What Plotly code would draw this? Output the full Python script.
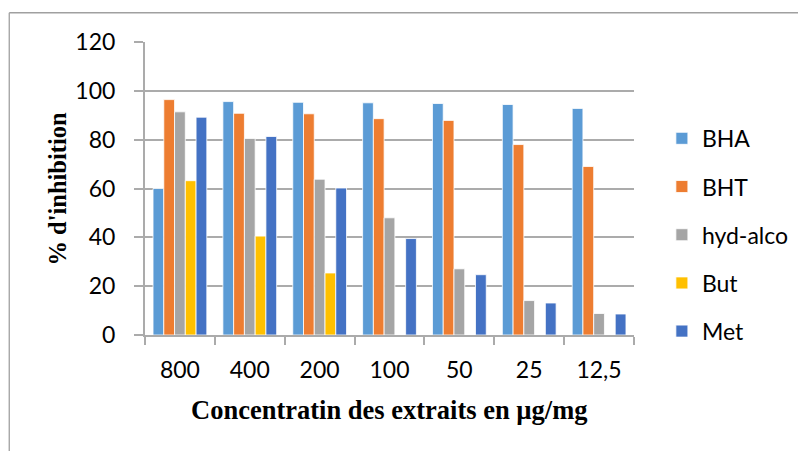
import plotly.graph_objects as go

categories = ["800", "400", "200", "100", "50", "25", "12,5"]
series_names = ["BHA", "BHT", "hyd-alco", "But", "Met"]
bha = [60, 95.6, 95.3, 95.1, 94.8, 94.4, 92.8]
bht = [96.4, 90.8, 90.6, 88.6, 87.9, 78.0, 69.0]
hyd_alco = [91.4, 80.5, 63.8, 48.0, 27.1, 14.1, 8.8]
but = [63.2, 40.5, 25.4, None, None, None, None]
met = [89.2, 81.3, 60.2, 39.5, 24.7, 13.1, 8.6]
colors = ["#5B9BD5", "#ED7D31", "#A5A5A5", "#FFC000", "#4472C4"]
y_ticks = [0, 20, 40, 60, 80, 100, 120]

# page has an 8px body margin; work in page coordinates and convert
OFF = 8
W, H = 806 - OFF, 451 - OFF
L, R, T, B = 145 - OFF, 636 - OFF, 42 - OFF, 335.5 - OFF
pw, ph = R - L, B - T

def px(x_page):
    return (x_page - OFF - L) / pw

def py(y_page):
    return (B - (y_page - OFF)) / ph

fig = go.Figure()
for name, vals, col in zip(series_names, [bha, bht, hyd_alco, but, met], colors):
    fig.add_trace(go.Bar(
        x=categories, y=vals, name=name, legendgroup=name,
        marker=dict(color=col, line=dict(color="white", width=0.8)),
    ))

tick_font = dict(family="Lato, Carlito, sans-serif", size=23, color="#000000")
xtitle_font = dict(family="Liberation Serif, Times New Roman, serif", size=26.5, color="#000000")
ytitle_font = dict(family="Liberation Serif, Times New Roman, serif", size=24.5, color="#000000")
gcol = "#ABABAB"

fig.update_layout(
    width=W, height=H,
    margin=dict(l=L, r=W - R, t=T, b=H - B, pad=0),
    paper_bgcolor="white", plot_bgcolor="white",
    barmode="group", bargap=0.23, bargroupgap=0,
    showlegend=True,
    legend=dict(
        x=px(664), y=py(117), xanchor="left", yanchor="top",
        font=tick_font, traceorder="grouped", tracegroupgap=15.3,
        bgcolor="rgba(0,0,0,0)", itemwidth=30,
    ),
    xaxis=dict(
        type="category", showgrid=False, showline=True, linecolor=gcol, linewidth=2,
        ticks="outside", tickson="boundaries", ticklen=8, tickcolor=gcol, tickwidth=1.5,
        tickfont=tick_font, ticklabelstandoff=13,
    ),
    yaxis=dict(
        range=[0, 120], tickvals=y_ticks, showgrid=True, gridcolor=gcol, gridwidth=2,
        showline=True, linecolor=gcol, linewidth=2,
        ticks="outside", ticklen=9, tickcolor=gcol, tickwidth=2,
        tickfont=tick_font, ticklabelstandoff=14, zeroline=False,
    ),
    annotations=[
        dict(text="<b>Concentratin des extraits en µg/mg</b>", xref="paper", yref="paper",
             x=0.5, y=py(411), xanchor="center", yanchor="middle", showarrow=False, font=xtitle_font),
        dict(text="<b>% d'inhibition</b>", xref="paper", yref="paper", textangle=-90,
             x=px(57), y=py(188.5), xanchor="center", yanchor="middle", showarrow=False, font=ytitle_font),
    ],
    shapes=[
        dict(type="line", xref="paper", yref="paper", x0=px(8.7), x1=px(820), y0=py(12.7), y1=py(12.7),
             line=dict(color="#A0A0A0", width=1.3)),
        dict(type="line", xref="paper", yref="paper", x0=px(8.7), x1=px(8.7), y0=py(12.7), y1=py(470),
             line=dict(color="#A0A0A0", width=1.3)),
    ],
)

fig.write_html("out.html")
